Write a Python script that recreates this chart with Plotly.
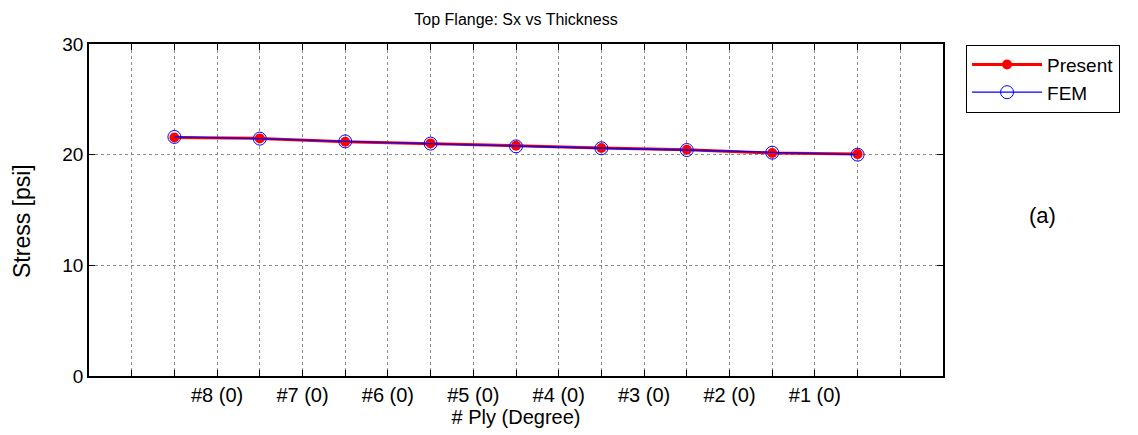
import plotly.graph_objects as go

ply_pos = [1, 2, 3, 4, 5, 6, 7, 8, 9]
present = [21.55, 21.47, 21.17, 21.02, 20.81, 20.60, 20.45, 20.15, 20.05]
fem = [21.60, 21.45, 21.20, 21.00, 20.75, 20.58, 20.42, 20.18, 20.00]

tick_vals = [i * 0.5 for i in range(21)]
tick_labels = ["", "", "", "#8 (0)", "", "#7 (0)", "", "#6 (0)", "", "#5 (0)", "",
               "#4 (0)", "", "#3 (0)", "", "#2 (0)", "", "#1 (0)", "", "", ""]
y_ticks = [0, 10, 20, 30]

FONT = "Liberation Sans, Arial, Helvetica, sans-serif"

# page body has an 8px margin; compensate so the plot area lands at x 89-943, y 44-376
W, H = 1130, 427
ML, MR, MT, MB = 81, 195, 36, 59
PW, PH = W - ML - MR, H - MT - MB

fig = go.Figure()
fig.add_trace(go.Scatter(
    x=ply_pos, y=present, name="Present", mode="lines+markers",
    line=dict(color="#ff0000", width=3),
    marker=dict(color="#ff0000", size=10, symbol="circle"),
    legendgroup="a",
))
fig.add_trace(go.Scatter(
    x=ply_pos, y=fem, name="FEM", mode="lines+markers",
    line=dict(color="#0000ff", width=1.3),
    marker=dict(color="#0000ff", size=13, symbol="circle-open",
                line=dict(color="#0000ff", width=1)),
    legendgroup="b",
))

fig.update_layout(
    width=W, height=H,
    margin=dict(l=ML, r=MR, t=MT, b=MB, autoexpand=False),
    paper_bgcolor="white", plot_bgcolor="white",
    font=dict(family=FONT, size=18, color="black"),
    title=dict(text="Top Flange: Sx vs Thickness", x=(ML + (W - MR)) / 2 / W, xanchor="center",
               yref="container", y=1 - 11 / H, yanchor="middle",
               font=dict(size=16, family=FONT)),
    showlegend=True,
    legend=dict(x=1.027, y=0.998, xanchor="left", yanchor="top",
                bordercolor="black", borderwidth=1, bgcolor="white",
                font=dict(size=19, family=FONT), tracegroupgap=0,
                itemwidth=70, traceorder="grouped"),
    annotations=[
        dict(text="(a)", x=(1042 - 89) / PW, y=(376 - 215) / PH, xref="paper", yref="paper",
             xanchor="center", yanchor="middle",
             showarrow=False, font=dict(size=22, family=FONT)),
        dict(text="Stress [psi]", x=(22 - 89) / PW, y=(376 - 221) / PH, xref="paper", yref="paper",
             xanchor="center", yanchor="middle", textangle=-90,
             showarrow=False, font=dict(size=23, family=FONT)),
    ],
)

fig.update_xaxes(
    range=[0, 10], tickmode="array", tickvals=tick_vals, ticktext=tick_labels,
    showgrid=True, gridcolor="#8c8c8c", griddash="dot", gridwidth=1,
    showline=True, linecolor="black", linewidth=1.5, mirror="ticks",
    ticks="inside", ticklen=6, tickcolor="black", zeroline=False,
    title=dict(text="# Ply (Degree)", standoff=4, font=dict(size=20)),
    tickfont=dict(size=20), automargin=False,
)
fig.update_yaxes(
    range=[0, 30], tickmode="array", tickvals=y_ticks,
    showgrid=True, gridcolor="#8c8c8c", griddash="dot", gridwidth=1,
    showline=True, linecolor="black", linewidth=1.5, mirror="ticks",
    ticks="inside", ticklen=6, tickcolor="black", zeroline=False,
    tickfont=dict(size=19), automargin=False,
)

fig.write_html("out.html")
